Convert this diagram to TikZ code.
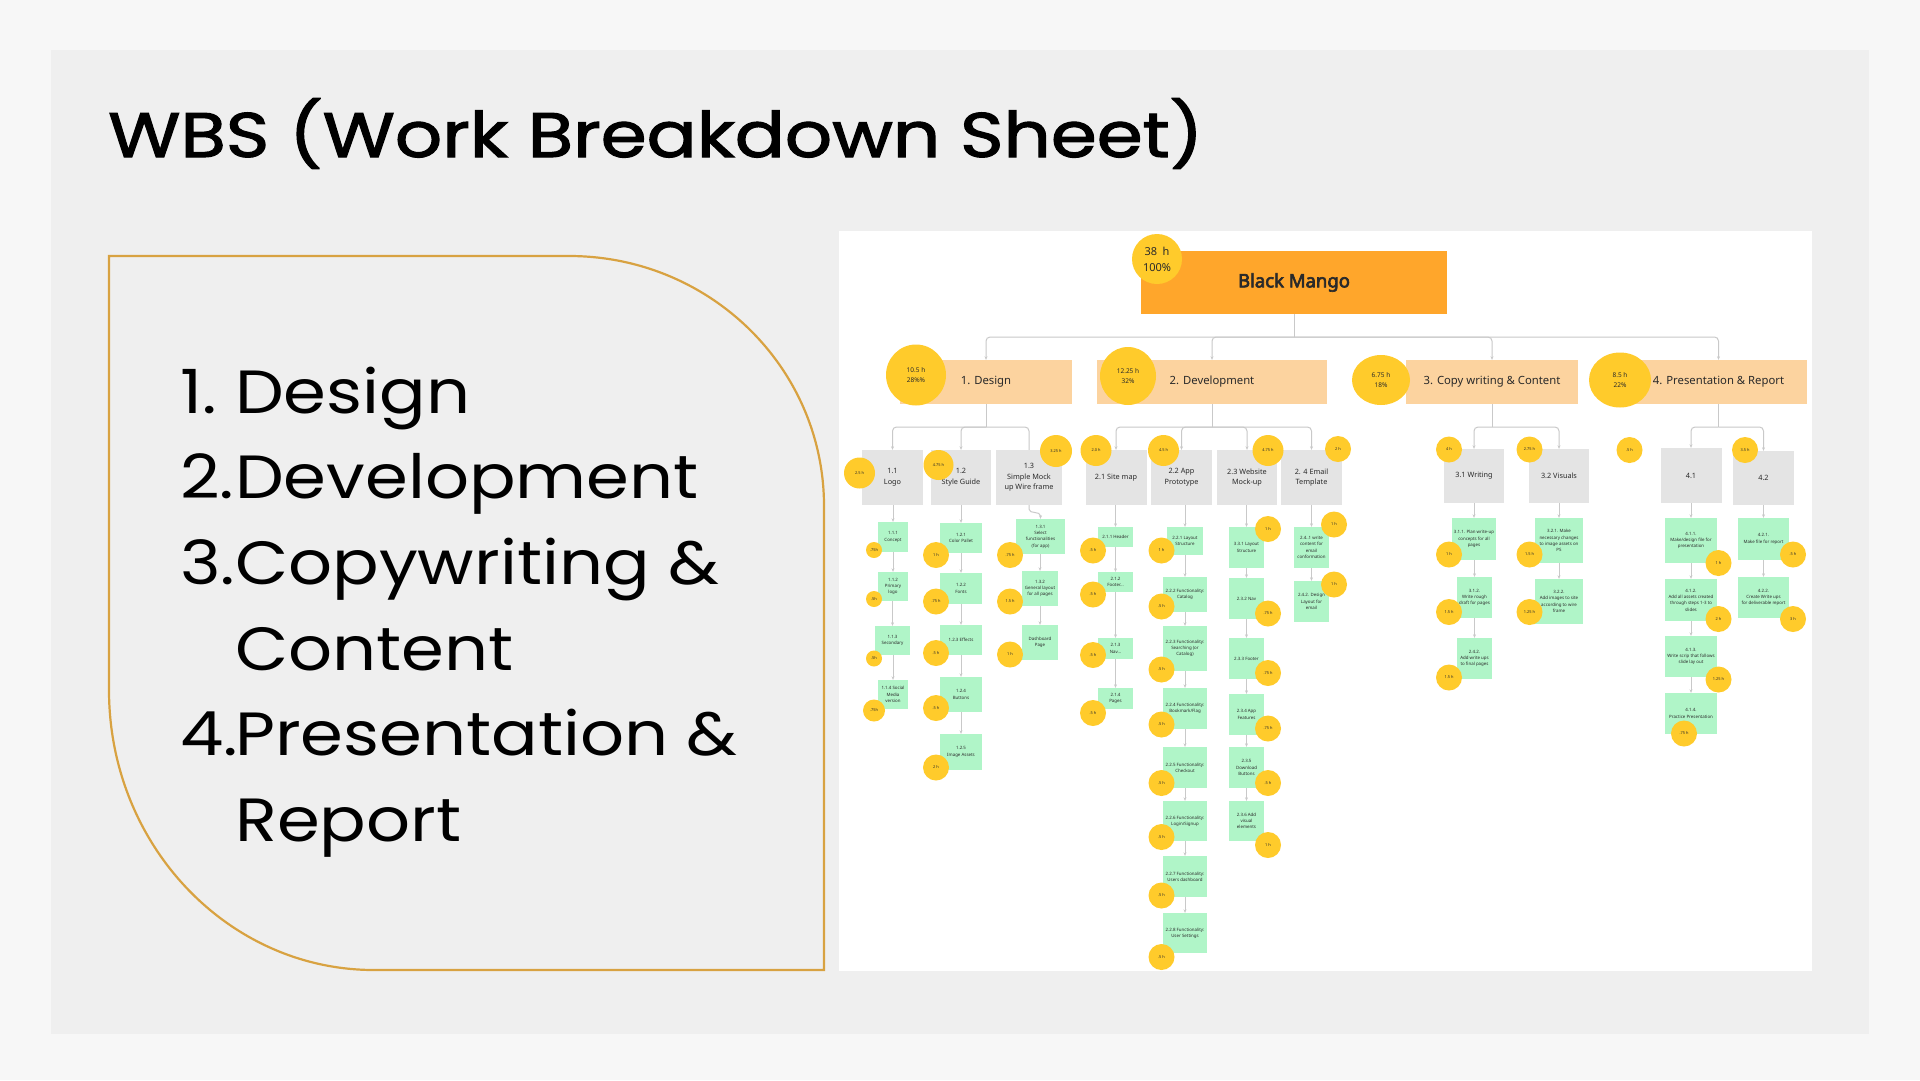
\documentclass[tikz,border=0pt]{standalone}
\usepackage{fontspec}
\setmainfont{Poppins}
\newfontfamily\titlefont{Poppins}[FakeBold=1.7]
\newfontfamily\dgfont{Noto Sans}
\newfontfamily\dgboldfont{Noto Sans}[FakeBold=3.5]
\usetikzlibrary{arrows.meta,shapes.geometric,calc}

\definecolor{pagebg}{HTML}{F7F7F7}
\definecolor{panelbg}{HTML}{EFEFEF}
\definecolor{gold}{HTML}{D8A241}
\definecolor{rootorange}{HTML}{FFA62B}
\definecolor{peach}{HTML}{FCD39F}
\definecolor{sun}{HTML}{FFCB2B}
\definecolor{greybox}{HTML}{E4E4E4}
\definecolor{mint}{HTML}{B0F5C8}
\definecolor{wire}{HTML}{C9C9C9}
\definecolor{ink}{HTML}{2A2A2A}

% text sizes
\newcommand\szTask{\fontsize{4.4pt}{6.3pt}\selectfont}
\newcommand\szHour{\fontsize{3.9pt}{4.5pt}\selectfont}
\newcommand\szSub{\fontsize{7.3pt}{10.7pt}\selectfont}
\newcommand\szMain{\fontsize{11.3pt}{13pt}\selectfont}
\newcommand\szMainHour{\fontsize{6.5pt}{10.8pt}\selectfont}
\newcommand\listtxt[1]{\scalebox{1.13}[1]{\fontsize{61pt}{61pt}\selectfont #1}}

\tikzset{
  box/.style={rectangle, inner sep=0pt, align=center, text=ink},
  rootbox/.style={box, fill=rootorange, font=\dgboldfont\fontsize{18.5pt}{22pt}\selectfont},
  phasebox/.style={box, fill=peach, font=\dgfont\szMain},
  subbox/.style={box, fill=greybox, font=\dgfont\szSub},
  taskbox/.style={box, fill=mint, font=\dgfont\szTask},
  badge/.style={ellipse, inner sep=0pt, fill=sun, align=center, text=ink, font=\dgfont\szHour},
  bigbadge/.style={badge, font=\dgfont\szMainHour},
  wirel/.style={draw=wire, line width=1pt},
  arr/.style={wirel, -{Stealth[length=3.5pt,width=3pt]}},
  listitem/.style={anchor=base west, inner sep=0pt, text=black},
}

\begin{document}
\begin{tikzpicture}[x=1pt, y=-1pt]
\useasboundingbox (0,0) rectangle (1920,1080);
\fill[pagebg] (0,0) rectangle (1920,1080);
\fill[panelbg] (51,50) rectangle (1869,1034);

% title
\node[anchor=base west, inner sep=0pt, text=black] (title) at (108,157)
  {\scalebox{1.175}[1]{\titlefont\fontsize{63pt}{63pt}\selectfont WBS (Work Breakdown Sheet)}};

% framed list on the left
\draw[gold, line width=2.2pt] (109,256) -- (569,256)
  .. controls (710,256) and (824,368) .. (824,506) -- (824,970) -- (374,970)
  .. controls (228,970) and (109,845) .. (109,690) -- cycle;
\node[listitem] (n1) at (180,413) {\listtxt{1.}};
\node[listitem] (t1) at (235,413) {\listtxt{Design}};
\node[listitem] (n2) at (180,498) {\listtxt{2.}};
\node[listitem] (t2) at (235,498) {\listtxt{Development}};
\node[listitem] (n3) at (180,584) {\listtxt{3.}};
\node[listitem] (t3) at (235,584) {\listtxt{Copywriting \&}};
\node[listitem] (t3b) at (235,670) {\listtxt{Content}};
\node[listitem] (n4) at (180,755) {\listtxt{4.}};
\node[listitem] (t4) at (235,755) {\listtxt{Presentation \&}};
\node[listitem] (t4b) at (235,841) {\listtxt{Report}};

% chart sheet
\fill[white] (839,231) rectangle (1812,971);

% root and phases
\node[rootbox, minimum width=306pt, minimum height=63pt] (bm) at (1294,282.5) {Black Mango};
\node[phasebox, minimum width=172pt, minimum height=44pt] (d1) at (986,382) {1. Design};
\node[phasebox, minimum width=230pt, minimum height=44pt] (d2) at (1212,382) {2. Development};
\node[phasebox, minimum width=172pt, minimum height=44pt] (d3) at (1492,382) {3. Copy writing \& Content};
\node[phasebox, minimum width=177pt, minimum height=44pt] (d4) at (1718.5,382) {4. Presentation \& Report};

% work packages
\node[subbox, minimum width=61pt, minimum height=55pt] (g11) at (892.5,477.5) {1.1\\Logo};
\node[subbox, minimum width=60pt, minimum height=55pt] (g12) at (961,477.5) {1.2\\Style Guide};
\node[subbox, minimum width=66pt, minimum height=55pt] (g13) at (1029,477.5) {1.3\\Simple Mock\\up Wire frame};
\node[subbox, minimum width=61pt, minimum height=55pt] (g21) at (1116,477.5) {2.1 Site map};
\node[subbox, minimum width=61pt, minimum height=55pt] (g22) at (1181.5,477.5) {2.2 App\\Prototype};
\node[subbox, minimum width=60pt, minimum height=55pt] (g23) at (1247,477.5) {2.3 Website\\Mock-up};
\node[subbox, minimum width=61pt, minimum height=55pt] (g24) at (1311.5,477.5) {2. 4 Email\\Template};
\node[subbox, minimum width=60pt, minimum height=54pt] (g31) at (1474,476) {3.1 Writing};
\node[subbox, minimum width=60pt, minimum height=54pt] (g32) at (1559,476) {3.2 Visuals};
\node[subbox, minimum width=61pt, minimum height=55pt] (g41) at (1691,475.5) {4.1};
\node[subbox, minimum width=61pt, minimum height=54pt] (g42) at (1763.5,478) {4.2};

% tasks: design
\node[taskbox, minimum width=30pt, minimum height=30pt] (a111) at (893,537) {1.1.1\\Concept};
\node[taskbox, minimum width=30pt, minimum height=29pt] (a112) at (893,586.5) {1.1.2\\Primary\\logo};
\node[taskbox, minimum width=35pt, minimum height=29pt] (a113) at (892.5,640.5) {1.1.3\\Secondary};
\node[taskbox, minimum width=30pt, minimum height=29pt] (a114) at (893,694.5) {1.1.4 Social\\Media\\version};
\node[taskbox, minimum width=42pt, minimum height=30pt] (a121) at (961,538) {1.2.1\\Color Pallet};
\node[taskbox, minimum width=42pt, minimum height=31pt] (a122) at (961,588.5) {1.2.2\\Fonts};
\node[taskbox, minimum width=42pt, minimum height=30pt] (a123) at (961,640) {1.2.3 Effects};
\node[taskbox, minimum width=42pt, minimum height=35pt] (a124) at (961,694.5) {1.2.4\\Buttons};
\node[taskbox, minimum width=42pt, minimum height=36pt] (a125) at (961,752) {1.2.5\\Image Assets};
\node[taskbox, minimum width=49pt, minimum height=35pt] (a131) at (1040.5,536.5) {1.3.1\\Select\\functionalities\\(for app)};
\node[taskbox, minimum width=36pt, minimum height=35pt] (a132) at (1040,588.5) {1.3.2\\General layout\\for all pages};
\node[taskbox, minimum width=36pt, minimum height=35pt] (a133) at (1040,642.5) {Dashboard\\Page};

% tasks: development
\node[taskbox, minimum width=35pt, minimum height=20pt] (b211) at (1115.5,537) {2.1.1 Header};
\node[taskbox, minimum width=35pt, minimum height=20pt] (b212) at (1115.5,582) {2.1.2\\Footer...};
\node[taskbox, minimum width=35pt, minimum height=21pt] (b213) at (1115.5,648.5) {2.1.3\\Nav...};
\node[taskbox, minimum width=35pt, minimum height=21pt] (b214) at (1115.5,698.5) {2.1.4\\Pages};
\node[taskbox, minimum width=36pt, minimum height=28pt] (b221) at (1185,541) {2.2.1 Layout\\Structure};
\node[taskbox, minimum width=44pt, minimum height=35pt] (b222) at (1185,594.5) {2.2.2 Functionality:\\Catalog};
\node[taskbox, minimum width=44pt, minimum height=45pt] (b223) at (1185,648.5) {2.2.3 Functionality:\\Searching (or\\Catalog)};
\node[taskbox, minimum width=44pt, minimum height=41pt] (b224) at (1185,708.5) {2.2.4 Functionality:\\Bookmark/Flag};
\node[taskbox, minimum width=44pt, minimum height=41pt] (b225) at (1185,767.5) {2.2.5 Functionality:\\Checkout};
\node[taskbox, minimum width=44pt, minimum height=40pt] (b226) at (1185,821) {2.2.6 Functionality:\\Login/Signup};
\node[taskbox, minimum width=44pt, minimum height=41pt] (b227) at (1185,876.5) {2.2.7 Functionality:\\Users dashboard};
\node[taskbox, minimum width=44pt, minimum height=40pt] (b228) at (1185,933) {2.2.8 Functionality:\\User Settings};
\node[taskbox, minimum width=35pt, minimum height=41pt] (b231) at (1246.5,547.5) {3.3.1 Layout\\Structure};
\node[taskbox, minimum width=35pt, minimum height=41pt] (b232) at (1246.5,598.5) {2.3.2 Nav};
\node[taskbox, minimum width=35pt, minimum height=41pt] (b233) at (1246.5,658.5) {2.3.3 Footer};
\node[taskbox, minimum width=35pt, minimum height=41pt] (b234) at (1246.5,714.5) {2.3.4 App\\Features};
\node[taskbox, minimum width=35pt, minimum height=41pt] (b235) at (1246.5,767.5) {2.3.5\\Download\\Buttons};
\node[taskbox, minimum width=35pt, minimum height=40pt] (b236) at (1246.5,821) {2.3.6 Add\\visual\\elements};
\node[taskbox, minimum width=35pt, minimum height=41pt] (b241) at (1311.5,547.5) {2.4..1 write\\content for\\email\\conformation};
\node[taskbox, minimum width=35pt, minimum height=41pt] (b242) at (1311.5,601.5) {2.4.2. Design\\Layout for\\email};

% tasks: copy writing
\node[taskbox, minimum width=44pt, minimum height=42pt] (c311) at (1474,539) {3.1.1. Plan write-up\\concepts for all\\pages};
\node[taskbox, minimum width=35pt, minimum height=41pt] (c312) at (1474.5,597.5) {3.1.2.\\Write rough\\draft for pages};
\node[taskbox, minimum width=35pt, minimum height=41pt] (c313) at (1474.5,658.5) {2.4.2.\\Add write ups\\to final pages};
\node[taskbox, minimum width=48pt, minimum height=45pt] (c321) at (1559,540.5) {3.2.1. Make\\necessary changes\\to image assets on\\PS};
\node[taskbox, minimum width=48pt, minimum height=45pt] (c322) at (1559,601.5) {3.2.2.\\Add images to site\\according to wire\\frame};

% tasks: presentation
\node[taskbox, minimum width=52pt, minimum height=45pt] (e411) at (1691,540.5) {4.1.1.\\Make/design file for\\presentation};
\node[taskbox, minimum width=52pt, minimum height=42pt] (e412) at (1691,600) {4.1.2.\\Add all assets created\\through steps 1-3 to\\slides};
\node[taskbox, minimum width=52pt, minimum height=41pt] (e413) at (1691,656.5) {4.1.3.\\Write scrip that follows\\slide lay out};
\node[taskbox, minimum width=52pt, minimum height=41pt] (e414) at (1691,713.5) {4.1.4.\\Practice Presentation};
\node[taskbox, minimum width=51pt, minimum height=42pt] (e421) at (1763.5,539) {4.2.1.\\Make file for report};
\node[taskbox, minimum width=51pt, minimum height=41pt] (e422) at (1763.5,597.5) {4.2.2.\\Create Write ups\\for deliverable report};

% connectors: root to phases
\coordinate (bar0) at (1294,337);
\draw[wirel] (bm.south) -- (bm.south |- bar0);
\foreach \t in {d1,d2,d3,d4}
  \draw[arr, rounded corners=4pt] (bm.south |- bar0) -| (\t.north);

% connectors: phases to work packages
\coordinate (bar1) at (0,427);
\draw[wirel] (d1.south) -- (d1.south |- bar1);
\draw[wirel] (d2.south) -- (d2.south |- bar1);
\draw[wirel] (d3.south) -- (d3.south |- bar1);
\draw[wirel] (d4.south) -- (d4.south |- bar1);
\foreach \t in {g11,g12}
  \draw[arr, rounded corners=4pt] (d1.south |- bar1) -| (\t.north);
\draw[wirel, rounded corners=4pt] (d1.south |- bar1) -| (g13.north);
\foreach \t in {g21,g22,g23,g24}
  \draw[arr, rounded corners=4pt] (d2.south |- bar1) -| (\t.north);
\foreach \t in {g31,g32}
  \draw[arr, rounded corners=4pt] (d3.south |- bar1) -| (\t.north);
\foreach \t in {g41,g42}
  \draw[arr, rounded corners=4pt] (d4.south |- bar1) -| (\t.north);

% connectors: work packages to task chains
\foreach \a/\b in {g11/a111,a111/a112,a112/a113,a113/a114,
                   g12/a121,a121/a122,a122/a123,a123/a124,a124/a125,
                   a131/a132,a132/a133,
                   g21/b211,b211/b212,b212/b213,b213/b214,
                   g22/b221,b221/b222,b222/b223,b223/b224,b224/b225,b225/b226,b226/b227,b227/b228,
                   g23/b231,b231/b232,b232/b233,b233/b234,b234/b235,b235/b236,
                   g24/b241,b241/b242,
                   g31/c311,c311/c312,c312/c313,
                   g32/c321,c321/c322,
                   g41/e411,e411/e412,e412/e413,e413/e414,
                   g42/e421,e421/e422}
  \draw[arr] (\b.north |- \a.south) -- (\b.north);
\draw[arr] (g13.south) -- ++(0,4) .. controls +(0,5) and +(0,-5) .. ($(a131.north)+(0,-3)$) -- (a131.north);

% hour badges
\node[badge, minimum width=50pt, minimum height=50pt, font=\dgfont\fontsize{11pt}{16pt}\selectfont] (h0) at (1157,259) {38\enspace h\\100\%};
\node[bigbadge, minimum width=60pt, minimum height=61pt] (h1) at (916,375) {10.5 h\\28\%\%};
\node[bigbadge, minimum width=56pt, minimum height=58pt] (h2) at (1128,376) {12.25 h\\32\%};
\node[bigbadge, minimum width=58pt, minimum height=50pt] (h3) at (1381,380) {6.75 h\\18\%};
\node[bigbadge, minimum width=62pt, minimum height=55pt] (h4) at (1620,380) {8.5 h\\22\%};

\node[badge, minimum size=31pt] (h11) at (859.5,473) {2.5 h};
\node[badge, minimum size=30pt] (h12) at (938.5,465) {4.75 h};
\node[badge, minimum size=32pt] (h13) at (1056,451) {3.25 h};
\node[badge, minimum size=31pt] (h21) at (1096,450.5) {2.0 h};
\node[badge, minimum size=31pt] (h22) at (1163.5,450.5) {4.5 h};
\node[badge, minimum size=31pt] (h23) at (1268,450.5) {4.75 h};
\node[badge, minimum size=26pt] (h24) at (1338,449) {2 h};
\node[badge, minimum size=26pt] (h31) at (1449,449.5) {4 h};
\node[badge, minimum size=26pt] (h32) at (1529.5,449.5) {2.75 h};
\node[badge, minimum size=26pt] (h40) at (1629.5,450) {.5 h};
\node[badge, minimum size=26pt] (h42) at (1745,450) {3.5 h};

\node[badge, minimum size=16pt] (t111) at (874,550) {.75h};
\node[badge, minimum size=16pt] (t112) at (874,599) {.5h};
\node[badge, minimum size=16pt] (t113) at (874,658.5) {.5h};
\node[badge, minimum size=22pt] (t114) at (874,710.5) {.75h};

\foreach \y/\h [count=\i] in {555/1 h,601.5/.75 h,653/.5 h,708/.5 h,767.5/2 h}
  \node[badge, minimum size=26pt] (t12\i) at (936,\y) {\h};
\foreach \y/\h [count=\i] in {555/.75 h,601.5/1.5 h,654.5/1 h}
  \node[badge, minimum size=26pt] (t13\i) at (1010,\y) {\h};
\foreach \y [count=\i] in {550.5,594.5,655,713}
  \node[badge, minimum size=26pt] (t21\i) at (1093,\y) {.5 h};
\foreach \y/\h [count=\i] in {550.5/1 h,606.5/.5 h,669.5/.5 h,724.5/.5 h,783/.5 h,837/.5 h,895.5/.5 h,957/.5 h}
  \node[badge, minimum size=26pt] (t22\i) at (1161.5,\y) {\h};
\foreach \y/\h [count=\i] in {529/1 h,613.5/.75 h,673/.75 h,728.5/.75 h,783/.5 h,845/1 h}
  \node[badge, minimum size=26pt] (t23\i) at (1268,\y) {\h};
\foreach \y [count=\i] in {524.5,584.5}
  \node[badge, minimum size=26pt] (t24\i) at (1334,\y) {1 h};
\foreach \y/\h [count=\i] in {554.5/1 h,612/1.5 h,677.5/1.5 h}
  \node[badge, minimum size=26pt] (t31\i) at (1449,\y) {\h};
\foreach \y/\h [count=\i] in {554.5/1.5 h,612/1.25 h}
  \node[badge, minimum size=26pt] (t32\i) at (1529.5,\y) {\h};
\foreach \y/\h [count=\i] in {563/1 h,619/2 h,679.5/1.25 h}
  \node[badge, minimum size=26pt] (t41\i) at (1718.5,\y) {\h};
\node[badge, minimum size=26pt] (t414) at (1684,733.5) {.75 h};
\foreach \y/\h [count=\i] in {554.5/.5 h,619/3 h}
  \node[badge, minimum size=26pt] (t42\i) at (1793,\y) {\h};
\end{tikzpicture}
\end{document}
